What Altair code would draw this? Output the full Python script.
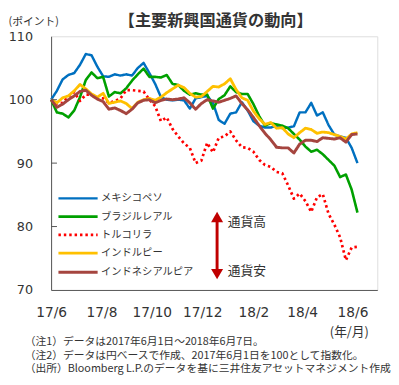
import altair as alt
import pandas as pd

title_text = "【主要新興国通貨の動向】"
series_names = ["メキシコペソ", "ブラジルレアル", "トルコリラ", "インドルピー", "インドネシアルピア"]
colors = ["#0070c0", "#00a000", "#ff0000", "#ffc000", "#a5453f"]

start_date = "2017-06-01"
n_points = 54  # weekly observations, 2017/6/1 - 2018/6/7

mxn = [100, 101.4, 103.2, 103.9, 104.2, 105.5, 107.2, 107.0, 105.2, 103.7,
       103.6, 104.0, 103.8, 104.0, 103.8, 105.0, 105.8, 104.2, 102.5, 100.4,
       100.0, 99.9, 100.0, 99.9, 98.6, 100.2, 100.4, 100.6, 99.5, 96.8,
       96.2, 97.8, 98.0, 99.6, 98.3, 96.6, 95.9, 95.6, 95.6, 95.9,
       95.5, 95.6, 95.8, 98.0, 98.0, 99.5, 97.5, 98.0, 96.0, 94.5,
       94.2, 94.0, 92.4, 90.0]
brl = [100, 98.0, 97.8, 97.2, 98.3, 100.4, 103.1, 104.3, 103.4, 103.6,
       100.5, 101.2, 101.0, 101.8, 103.0, 104.0, 104.9, 103.6, 103.6, 103.5,
       103.9, 102.5, 102.3, 101.4, 100.8, 101.0, 100.8, 100.8, 98.6, 100.1,
       100.7, 102.1, 101.2, 100.9, 100.9, 99.3, 97.4, 95.9, 96.3, 96.1,
       95.9, 95.5, 94.6, 93.7, 92.6, 91.8, 92.1, 91.4, 90.5, 89.6,
       87.8, 88.2, 85.8, 82.2]
tryl = [100, 99.4, 99.5, 100.5, 101.2, 99.8, 100.8, 100.8, 100.3, 100.2,
        99.5, 99.8, 100.2, 101.5, 101.5, 101.4, 101.3, 100.0, 99.0, 96.6,
        97.2, 95.4, 94.2, 93.1, 92.4, 90.0, 90.4, 93.2, 91.7, 94.0,
        94.2, 95.0, 93.6, 92.5, 92.4, 91.8, 90.5, 89.7, 89.4, 88.6,
        88.4, 86.5, 84.4, 85.2, 84.0, 82.3, 84.6, 85.1, 82.0, 80.3,
        78.3, 74.7, 76.7, 76.8]
inr = [100, 99.5, 100.3, 100.6, 101.4, 102.4, 101.7, 100.9, 100.4, 101.0,
       99.4, 99.6, 99.8, 99.4, 98.6, 99.6, 100.0, 100.2, 99.9, 100.4,
       101.1, 101.7, 102.3, 101.9, 101.0, 100.4, 100.5, 101.3, 102.1, 102.0,
       102.5, 103.3, 101.6, 100.3, 99.9, 98.2, 97.0, 96.1, 96.4, 95.5,
       95.6, 94.6, 94.0, 94.8, 95.5, 95.3, 94.7, 94.9, 94.8, 94.5,
       94.2, 93.8, 94.6, 94.8]
idr = [100, 98.8, 99.3, 100.0, 100.6, 101.3, 101.5, 100.7, 100.1, 99.7,
       98.5, 98.7, 98.3, 97.8, 98.5, 99.5, 99.9, 100.0, 99.5, 99.9,
       100.1, 100.0, 100.1, 100.3, 99.5, 98.5, 99.4, 100.0, 99.8, 99.6,
       99.9, 100.2, 100.6, 99.4, 98.4, 97.2, 95.9, 94.7, 93.7, 92.5,
       92.4, 92.4, 91.6, 93.0, 93.6, 93.6, 93.4, 94.0, 93.9, 93.8,
       94.0, 93.3, 94.5, 94.6]

y_ticks = [70, 80, 90, 100, 110]
x_tick_dates = [(2017, 6), (2017, 8), (2017, 10), (2017, 12), (2018, 2), (2018, 4), (2018, 6)]

arrow_date = "2017-12-19"
arrow_top, arrow_bottom = 81.5, 72.5
arrow_labels = ["通貨高", "通貨安"]
arrow_label_values = [80.7, 73.0]

notes = [
    "（注1）データは2017年6月1日～2018年6月7日。",
    "（注2）データは円ベースで作成、2017年6月1日を100として指数化。",
    "（出所）Bloomberg L.P.のデータを基に三井住友アセットマネジメント作成",
]

JP = "Noto Sans CJK JP"
NUM = "DejaVu Sans"
TXT = "#333333"

dates = pd.date_range(start_date, periods=n_points, freq="7D")
rows = []
for name, vals in zip(series_names, [mxn, brl, tryl, inr, idr]):
    for d, v in zip(dates, vals):
        rows.append({"date": d, "value": v, "series": name})
df = pd.DataFrame(rows)

x_scale = alt.Scale(domain=[alt.DateTime(year=2017, month=6, date=1),
                            alt.DateTime(year=2018, month=7, date=1)])
y_scale = alt.Scale(domain=[70, 110])

lines = alt.Chart(df).mark_line(strokeCap="butt", strokeJoin="round").encode(
    x=alt.X("date:T", scale=x_scale,
            axis=alt.Axis(values=[alt.DateTime(year=y, month=m, date=1) for y, m in x_tick_dates],
                          format="%y/%-m", labelFont=NUM, labelFontSize=14, labelColor=TXT,
                          labelPadding=16, labelFlush=False, labelOverlap=False,
                          ticks=False, grid=False, domainColor="#555",
                          title="(年/月)", titleFont=JP, titleFontSize=13, titleFontWeight="normal",
                          titleColor=TXT, titleX=304, titleY=42, titleAlign="center",
                          titleBaseline="middle")),
    y=alt.Y("value:Q", scale=y_scale,
            axis=alt.Axis(values=y_ticks, labelFont=NUM, labelFontSize=13, labelColor=TXT,
                          labelPadding=19, ticks=False, grid=False, domainColor="#555",
                          title="(ポイント)", titleFont=JP, titleFontSize=11,
                          titleFontWeight="normal", titleColor=TXT, titleAngle=0,
                          titleX=-44, titleY=-15, titleAlign="left", titleBaseline="middle")),
    color=alt.Color("series:N", scale=alt.Scale(domain=series_names, range=colors),
                    legend=alt.Legend(title=None, orient="none", legendX=21, legendY=159,
                                      symbolType="M-4,0H4", symbolSize=100,
                                      labelFont=JP, labelFontSize=10.5, labelColor=TXT,
                                      labelOffset=17, rowPadding=6.6, padding=0,
                                      symbolStrokeWidth=3)),
    strokeDash=alt.StrokeDash("series:N",
                              scale=alt.Scale(domain=series_names,
                                              range=[[1, 0], [1, 0], [2.5, 3], [1, 0], [1, 0]])),
    strokeWidth=alt.StrokeWidth("series:N",
                                scale=alt.Scale(domain=series_names, range=[2.5, 3, 2.5, 4, 4])),
)

tick_df = pd.DataFrame({"v": y_ticks[1:-1]})
inner_ticks = alt.Chart(tick_df).mark_rule(color="#555", strokeWidth=1).encode(
    y=alt.Y("v:Q", scale=y_scale), x=alt.value(0), x2=alt.value(6))

arrow_df = pd.DataFrame({"date": [arrow_date], "top": [arrow_top], "bottom": [arrow_bottom]})
shaft = alt.Chart(arrow_df).mark_rule(color="#c00000", strokeWidth=3).encode(
    x=alt.X("date:T", scale=x_scale), y=alt.Y("top:Q", scale=y_scale), y2="bottom:Q")
head_up = alt.Chart(arrow_df).mark_point(shape="triangle-up", filled=True, size=150,
                                         color="#c00000", opacity=1).encode(
    x=alt.X("date:T", scale=x_scale), y=alt.Y("top:Q", scale=y_scale))
head_down = alt.Chart(arrow_df).mark_point(shape="triangle-down", filled=True, size=150,
                                           color="#c00000", opacity=1).encode(
    x=alt.X("date:T", scale=x_scale), y=alt.Y("bottom:Q", scale=y_scale))

lab_df = pd.DataFrame({"date": [arrow_date] * 2, "v": arrow_label_values, "t": arrow_labels})
arrow_text = alt.Chart(lab_df).mark_text(align="left", baseline="middle", dx=11, font=JP,
                                         fontSize=13, color=TXT).encode(
    x=alt.X("date:T", scale=x_scale), y=alt.Y("v:Q", scale=y_scale), text="t:N")

note_df = pd.DataFrame({"note": ["\n".join(notes)]})
note_text = alt.Chart(note_df).mark_text(align="left", baseline="top", lineBreak="\n",
                                         lineHeight=14, font=JP, fontSize=11,
                                         color=TXT).encode(
    text="note:N", x=alt.value(-27), y=alt.value(306))

title_df = pd.DataFrame({"t": [title_text]})
title_mark = alt.Chart(title_df).mark_text(align="center", baseline="middle", font=JP,
                                           fontSize=16.5, fontWeight="bold",
                                           color=TXT).encode(
    text="t:N", x=alt.value(168), y=alt.value(-15))

chart = alt.layer(lines, inner_ticks, shaft, head_up, head_down, arrow_text, note_text,
                  title_mark).properties(
    width=333, height=259,
    padding={"left": 44, "top": 25, "right": 14, "bottom": 85},
    autosize=alt.AutoSizeParams(type="none"),
).configure_view(stroke="#555", strokeWidth=1).configure(background="white")

chart.save("out.html", embed_options={"renderer": "svg", "actions": False})
